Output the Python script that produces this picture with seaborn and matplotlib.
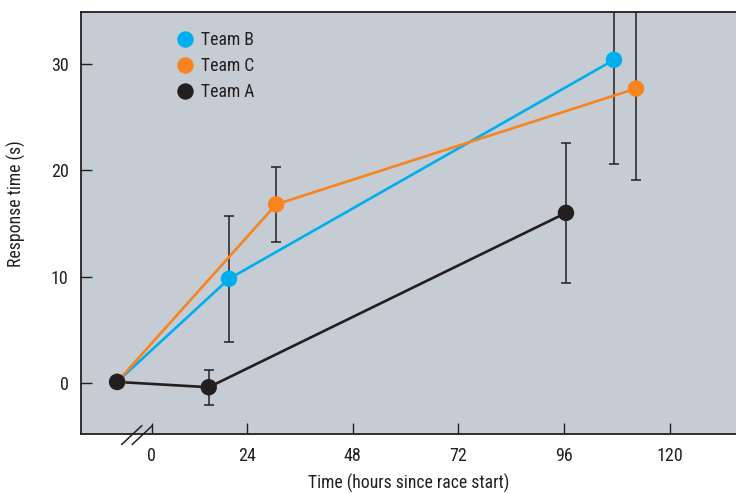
import matplotlib
matplotlib.use("Agg")
import matplotlib.pyplot as plt
import numpy as np
import pandas as pd
import seaborn as sns

# Response time per team at each checkpoint (hours since race start)
time_a = [-5.5, 15.3, 96.4]
resp_a = [0.1, -0.4, 16.0]
err_a = [0.0, 1.65, 6.6]

time_b = [-5.5, 19.9, 107.3]
resp_b = [0.1, 9.8, 30.4]
err_b = [0.0, 5.95, 9.8]

time_c = [-5.5, 30.6, 112.3]
resp_c = [0.1, 16.8, 27.7]
err_c = [0.0, 3.5, 8.6]

legend_order = ["Team B", "Team C", "Team A"]
tick_hours = [0, 24, 48, 72, 96, 120]
tick_labels = ["0", "24", "48", "72", "96", "120"]
y_ticks = [0, 10, 20, 30]

colors = {"Team A": "#231f20", "Team B": "#00aeef", "Team C": "#f7841f"}
BG = "#c5ccd3"
INK = "#231f20"

sns.set_theme(style="white")
plt.rcParams["font.family"] = ["Roboto Condensed", "Liberation Sans Narrow",
                               "Roboto", "DejaVu Sans"]
plt.rcParams["text.color"] = INK
plt.rcParams["axes.labelcolor"] = INK
plt.rcParams["xtick.color"] = INK
plt.rcParams["ytick.color"] = INK

series = {
    "Team B": (time_b, resp_b, err_b),
    "Team C": (time_c, resp_c, err_c),
    "Team A": (time_a, resp_a, err_a),
}
df = pd.concat(
    [pd.DataFrame({"team": k, "hours": v[0], "resp": v[1], "err": v[2]})
     for k, v in series.items()],
    ignore_index=True,
)

fig = plt.figure(figsize=(7.36, 4.94), dpi=100)
ax = fig.add_axes([81 / 736, 1 - 434 / 494, 655 / 736, 422 / 494])
ax.set_facecolor(BG)

# error bars (skip the shared starting point)
for team in legend_order:
    sub = df[(df.team == team) & (df.err > 0)]
    ax.errorbar(sub.hours, sub.resp, yerr=sub.err, fmt="none",
                ecolor=INK, elinewidth=1.1, capsize=3.6, capthick=1.1, zorder=2)

sns.lineplot(data=df, x="hours", y="resp", hue="team", hue_order=legend_order,
             palette=colors, linewidth=1.9, legend=False, ax=ax, zorder=3,
             estimator=None, sort=False)
sns.scatterplot(data=df, x="hours", y="resp", hue="team", hue_order=legend_order,
                palette=colors, s=140, linewidth=0, ax=ax, zorder=4)

ax.set_xlim(-13.7, 135.0)
ax.set_ylim(-4.8, 34.9)

# the zero tick sits just right of the axis break
break_shift = 2.4
ax.set_xticks([h + break_shift if h == 0 else h for h in tick_hours])
ax.set_xticklabels(tick_labels)
ax.set_yticks(y_ticks)
ax.tick_params(axis="both", direction="in", length=8, width=1.0,
               labelsize=13, pad=9, bottom=True, left=True,
               top=False, right=False)

for side in ["left", "bottom", "top"]:
    ax.spines[side].set_visible(True)
    ax.spines[side].set_color(INK)
    ax.spines[side].set_linewidth(1.3)
ax.spines["right"].set_visible(False)

ax.set_xlabel("Time (hours since race start)", fontsize=12.7)
ax.set_ylabel("Response time (s)", fontsize=12.7)
ax.xaxis.set_label_coords(0.5, -0.095)
ax.yaxis.set_label_coords(-0.084, 0.546)

# axis break marks
for x0 in (0.062, 0.078):
    ax.plot([x0, x0 + 0.031], [-0.025, 0.020], transform=ax.transAxes,
            color=INK, linewidth=1.1, clip_on=False, zorder=5)

leg = ax.legend(loc="upper left", bbox_to_anchor=(0.146, 0.955), frameon=False,
                fontsize=12.7, handlelength=1.0, handletextpad=0.4,
                labelspacing=0.45, borderaxespad=0.0, borderpad=0.0)
for h in leg.legend_handles:
    h.set_markersize(11.8)

fig.savefig("out.png", dpi=100, facecolor="white")
